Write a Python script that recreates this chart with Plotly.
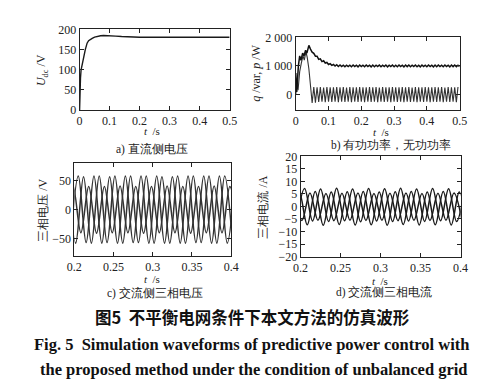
import plotly.graph_objects as go

W, H = 500, 383

# ---------- panel a : DC voltage ----------
a_t = [0, 0.001, 0.003, 0.005, 0.009, 0.014, 0.019, 0.025, 0.03, 0.035, 0.042, 0.05, 0.06, 0.07, 0.08, 0.09, 0.1,
       0.11, 0.12, 0.14, 0.16, 0.18, 0.2, 0.25, 0.3, 0.35, 0.4, 0.45, 0.5]
a_u = [0, 45, 80, 100, 118, 132, 150, 166, 172, 175, 178, 181, 183, 184.5, 185, 185, 184.5,
       184, 183.5, 182.5, 181.5, 181, 180.5, 180.5, 180.5, 180.5, 181, 180.5, 180.5]

# ---------- panel b : active / reactive power ----------
p_start_t = [0, 0.003, 0.008, 0.012, 0.016, 0.021, 0.025, 0.03, 0.034, 0.04]
p_start_v = [750, 80, 1000, 1350, 1200, 1450, 1350, 1550, 1450, 1720]
p_rip_t0, p_rip_dt = 0.045, 0.005
p_rip_v = [1590, 1480, 1440, 1340, 1340, 1230, 1250, 1150, 1180, 1100, 1120, 1050, 1080, 1020, 1050, 995,
           1040, 980, 1030, 975, 1025, 970, 1025, 975, 1025, 970, 1030, 975, 1025, 965, 1030, 975,
           1025, 970, 1030, 975, 1025, 965, 1030, 970, 1025, 975, 1030, 970, 1025, 975, 1030, 965,
           1025, 975, 1030, 970, 1025, 970, 1030, 975, 1025, 965, 1030, 975, 1030, 970, 1025, 975,
           1030, 970, 1025, 965, 1030, 975, 1025, 970, 1030, 975, 1025, 965, 1030, 970, 1030, 975,
           1025, 970, 1030, 975, 1025, 965, 1030, 975, 1030, 970, 1025, 975]
q_start_t = [0, 0.004, 0.007, 0.012, 0.017, 0.022, 0.026, 0.031, 0.035, 0.04, 0.045, 0.05]
q_start_v = [0, 350, 150, 800, 1100, 1350, 1200, 1500, 1300, 900, 300, -300]
q_rip_t0, q_rip_dt = 0.055, 0.005
q_rip_v = [260, -290, 250, -270, 255, -260, 240, -275, 260, -255, 250, -270, 245, -260, 255, -280,
           250, -255, 260, -270, 240, -260, 255, -275, 250, -260, 245, -270, 260, -255, 250, -280,
           245, -260, 255, -270, 250, -255, 260, -275, 240, -260, 255, -270, 250, -260, 245, -275,
           260, -255, 250, -270, 245, -260, 255, -280, 250, -255, 260, -270, 240, -260, 255, -275,
           250, -260, 245, -270, 260, -255, 250, -280, 245, -260, 255, -270, 250, -255, 260, -275,
           240, -260, 255, -270, 250, -260, 245, -275, 260]

# ---------- panel c : AC three-phase voltage (extrema every 10 ms) ----------
ext_dt = 0.01
ua_t0, ua_v = 0.195, [-58, 58, -57, 58, -58, 57, -58, 58, -57, 58, -58, 58, -58, 57, -58, 58, -57, 58, -58, 58, -58, 58]
ub_t0, ub_v = 0.1917, [58, -58, 57, -58, 58, -57, 58, -58, 58, -57, 58, -58, 57, -58, 58, -58, 58, -57, 58, -58, 58, -58]
uc_t0, uc_v = 0.1883, [-40, 41, -40, 40, -41, 40, -40, 41, -40, 40, -41, 40, -40, 41, -40, 40, -41, 40, -40, 41, -40, 40, -41]

# ---------- panel d : AC three-phase current (extrema every 10 ms) ----------
ia_t0, ia_v = 0.195, [-6, 7.2, -5.8, 7, -6, 7.3, -5.7, 7, -6.1, 7.2, -5.8, 7.1, -6, 7.3, -5.8, 7, -6, 7.2, -5.7, 7.1, -6, 7]
ib_t0, ib_v = 0.1917, [5.2, -5.6, 5.4, -5.5, 5.2, -5.7, 5.3, -5.5, 5.4, -5.6, 5.2, -5.5, 5.3, -5.7, 5.4, -5.5, 5.2, -5.6, 5.3, -5.5, 5.4, -5.6]
ic_t0, ic_v = 0.1883, [-7.4, 5.8, -7.3, 6, -7.5, 5.8, -7.2, 5.9, -7.4, 6, -7.3, 5.8, -7.5, 5.9, -7.2, 6, -7.4, 5.8, -7.3, 6, -7.4, 5.8, -7.3]


def grid(t0, dt, vals):
    return [t0 + dt * i for i in range(len(vals))]


LINE = dict(color="#1a1a1a", width=1.4)
fig = go.Figure()

fig.add_trace(go.Scatter(x=a_t, y=a_u, mode="lines", line=LINE, xaxis="x", yaxis="y"))

fig.add_trace(go.Scatter(x=q_start_t + grid(q_rip_t0, q_rip_dt, q_rip_v), y=q_start_v + q_rip_v,
                         mode="lines", line=dict(color="#333", width=1.1), xaxis="x2", yaxis="y2"))
fig.add_trace(go.Scatter(x=p_start_t + grid(p_rip_t0, p_rip_dt, p_rip_v), y=p_start_v + p_rip_v,
                         mode="lines", line=dict(color="#111", width=1.5), xaxis="x2", yaxis="y2"))

for t0, vals in [(ua_t0, ua_v), (ub_t0, ub_v), (uc_t0, uc_v)]:
    fig.add_trace(go.Scatter(x=grid(t0, ext_dt, vals), y=vals, mode="lines", line_shape="spline",
                             line=dict(color="#333", width=1.5), xaxis="x3", yaxis="y3"))
for t0, vals in [(ia_t0, ia_v), (ib_t0, ib_v), (ic_t0, ic_v)]:
    fig.add_trace(go.Scatter(x=grid(t0, ext_dt, vals), y=vals, mode="lines", line_shape="spline",
                             line=dict(color="#1a1a1a", width=1.5), xaxis="x4", yaxis="y4"))


def px(x):
    return x / W


def py(y):
    return 1 - y / H


SERIF = "Liberation Serif"
TICKFONT = dict(family=SERIF, size=12, color="#222")
AX = dict(showgrid=False, zeroline=False, showline=True, linecolor="#222", linewidth=1, mirror="ticks",
          ticks="inside", ticklen=4, tickcolor="#222", tickfont=TICKFONT)

# panel domains (pixels)
dom = {
    1: ((65.7, 220.7), (15, 98.7)),
    2: ((289, 458.3), (23.3, 98.3)),
    3: ((60.3, 222.3), (154, 250)),
    4: ((294, 459.3), (146.7, 250.7)),
}


def xd(k):
    return [px(dom[k][0][0]), px(dom[k][0][1])]


def yd(k):
    return [py(dom[k][1][1]), py(dom[k][1][0])]


fig.update_layout(
    width=W, height=H, autosize=False, margin=dict(l=0, r=0, t=0, b=0),
    paper_bgcolor="white", plot_bgcolor="white", showlegend=False,
    xaxis=dict(AX, domain=xd(1), range=[0, 0.5], tickvals=[0, 0.1, 0.2, 0.3, 0.4, 0.5], anchor="y"),
    yaxis=dict(AX, domain=yd(1), range=[0, 200], tickvals=[0, 50, 100, 150, 200], anchor="x"),
    xaxis2=dict(AX, domain=xd(2), range=[0, 0.5], tickvals=[0, 0.1, 0.2, 0.3, 0.4, 0.5], anchor="y2"),
    yaxis2=dict(AX, domain=yd(2), range=[-540, 2000], tickvals=[0, 1000, 2000],
                ticktext=["0", "1 000", "2 000"], anchor="x2"),
    xaxis3=dict(AX, domain=xd(3), range=[0.2, 0.4], tickvals=[0.2, 0.25, 0.3, 0.35, 0.4],
                ticktext=["0.2", "0.25", "0.3", "0.35", "0.4"], anchor="y3"),
    yaxis3=dict(AX, domain=yd(3), range=[-80, 80], tickvals=[-50, 0, 50], anchor="x3"),
    xaxis4=dict(AX, domain=xd(4), range=[0.2, 0.4], tickvals=[0.2, 0.25, 0.3, 0.35, 0.4],
                ticktext=["0.2", "0.25", "0.3", "0.35", "0.4"], anchor="y4"),
    yaxis4=dict(AX, domain=yd(4), range=[-20, 20], tickvals=list(range(-20, 21, 5)), anchor="x4"),
)

CJK = "Noto Sans CJK SC"


def ann(x, y, text, size=12, family=SERIF, angle=0, color="#222"):
    fig.add_annotation(x=px(x), y=py(y), xref="paper", yref="paper", text=text, showarrow=False,
                       xanchor="center", yanchor="middle", textangle=angle, borderpad=0,
                       font=dict(family=family, size=size, color=color))


# axis titles
ann(140, 120, "<i>t</i>  /s", size=11)
ann(377, 121, "<i>t</i>  /s", size=11)
ann(140, 274, "<i>t</i>  /s", size=11)
ann(376, 276, "<i>t</i>  /s", size=11)
ann(27, 57, "<i>U</i><sub>dc</sub> /V", angle=-90)
ann(248, 60, "<i>q</i> /var, <i>p</i> /W", angle=-90)
ann(27, 203, "三相电压 /V", angle=-90)
ann(255, 199, "三相电流 /A", angle=-90)

# sub captions
ann(141, 139, "a) 直流侧电压", size=11.5)
ann(387, 135, "b) 有功功率，无功功率", size=11.5)
ann(144, 289, "c) 交流侧三相电压", size=11.5)
ann(380, 288, "d) 交流侧三相电流", size=11.5)

# figure caption
ann(244, 313, "<b>图5  不平衡电网条件下本文方法的仿真波形</b>", size=16.5, family=CJK, color="#111")
ann(243, 342, "<b>Fig. 5  Simulation waveforms of predictive power control with</b>", size=16.5,
    family=SERIF, color="#111")
ann(246, 368, "<b>the proposed method under the condition of unbalanced grid</b>", size=16.5,
    family=SERIF, color="#111")

fig.write_html("out.html")
